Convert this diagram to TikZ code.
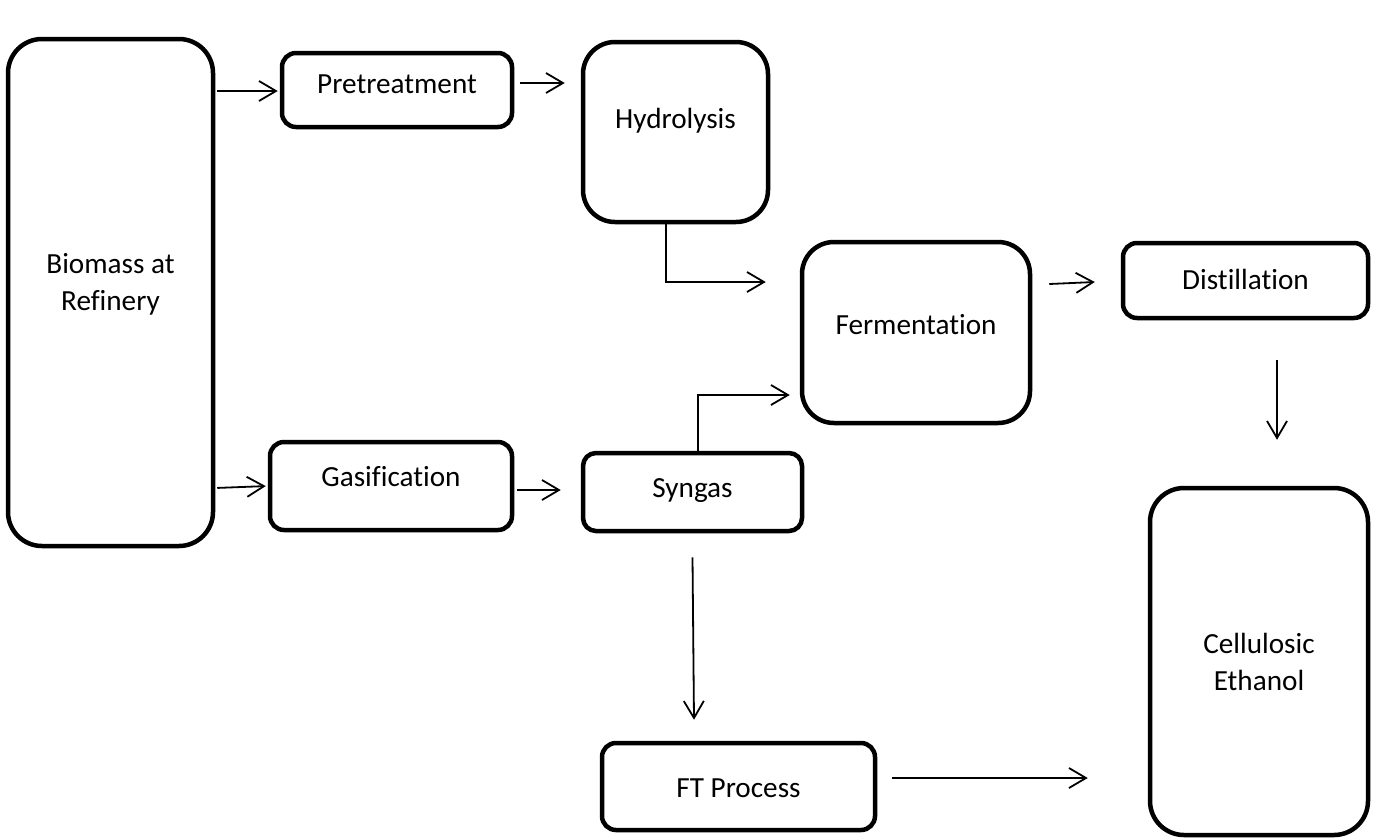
\documentclass[tikz,border=0pt]{standalone}
\usepackage{fontspec}
\setmainfont{Carlito}[Ligatures=NoCommon]
\usetikzlibrary{arrows.meta}
\begin{document}
\begin{tikzpicture}[x=1pt,y=-1pt,
  bx/.style={draw=black, line width=4.5pt, fill=white, inner sep=0pt, align=center,
    font=\fontsize{29.2}{37}\selectfont, text height=24pt},
  arr/.style={line width=1.8pt, -{Straight Barb[length=17pt,width=20pt,line width=1.8pt]}}
]
\useasboundingbox (0,0) rectangle (1375,839);
% boxes
\node[bx, rounded corners=34pt, minimum width=205pt, minimum height=507pt, text height=60pt, text depth=25pt] (bio) at (110.5,292.5) {Biomass at\\Refinery};
\node[bx, rounded corners=14pt, minimum width=230pt, minimum height=74pt, text depth=18pt] (pre) at (397,90) {Pretreatment};
\node[bx, rounded corners=32pt, minimum width=185pt, minimum height=180pt, text depth=32pt] (hyd) at (675.5,132) {Hydrolysis};
\node[bx, rounded corners=32pt, minimum width=228pt, minimum height=181pt, text depth=21pt] (fer) at (916,332.5) {Fermentation};
\node[bx, rounded corners=14pt, minimum width=245pt, minimum height=75pt, text depth=7pt] (dis) at (1245.5,280.5) {Distillation};
\node[bx, rounded corners=14pt, minimum width=242pt, minimum height=88pt, text depth=24pt] (gas) at (391,486) {Gasification};
\node[bx, rounded corners=13pt, minimum width=219pt, minimum height=78pt, text depth=14pt] (syn) at (692.5,492) {Syngas};
\node[bx, rounded corners=14pt, minimum width=273pt, minimum height=87pt, text depth=3pt] (ft) at (738.5,786.5) {FT Process};
\node[bx, rounded corners=34pt, minimum width=218pt, minimum height=347pt, text height=60pt, text depth=3pt] (cel) at (1259,661.5) {Cellulosic\\Ethanol};
% connectors
\draw[arr, shorten <=2pt, shorten >=2pt] ([yshift=-1pt]bio.east |- pre.west) -- ([yshift=-1pt]pre.west);
\draw[arr, shorten <=6pt, shorten >=16pt] ([yshift=7pt]pre.east) -- ([yshift=7pt]pre.east -| hyd.west);
\draw[arr, shorten >=34pt] ([xshift=-9.5pt]hyd.south) |- ([yshift=50.5pt]fer.west);
\draw[arr] ([shift={(17,-48.5)}]fer.east) -- ([shift={(-26,1.5)}]dis.west);
\draw[arr] ([shift={(31.5,40)}]dis.south) -- ([shift={(18,-46)}]cel.north);
\draw[arr, shorten <=2pt, shorten >=2pt] ([yshift=-2pt]bio.east |- gas.west) -- (gas.west);
\draw[arr, shorten <=3pt, shorten >=20pt] ([yshift=-4pt]gas.east) -- ([yshift=-4pt]gas.east -| syn.west);
\draw[arr, shorten >=10pt] ([xshift=5.5pt]syn.north) |- ([yshift=-62.5pt]fer.west);
\draw[arr] ([shift={(0,24)}]syn.south) -- ([shift={(-44.5,-21)}]ft.north);
\draw[arr, shorten <=15pt, shorten >=60pt] ([yshift=8.5pt]ft.east) -- ([yshift=8.5pt]ft.east -| cel.west);
\end{tikzpicture}
\end{document}
